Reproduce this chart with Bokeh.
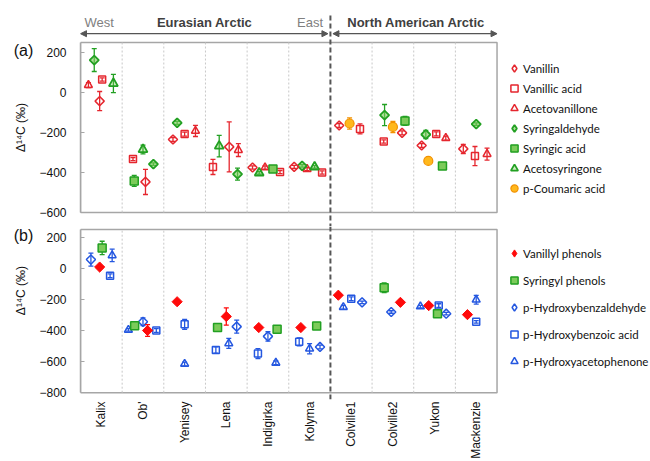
import math
from bokeh.plotting import figure
from bokeh.models import (ColumnDataSource, FixedTicker, Span, Label, Arrow, NormalHead,
                          Legend, LegendItem, Range1d)
from bokeh.layouts import column, row
from bokeh.embed import file_html
from bokeh.resources import INLINE

# ---------------- data ----------------
rivers = ["Kalix", "Ob'", "Yenisey", "Lena", "Indigirka", "Kolyma",
          "Colville1", "Colville2", "Yukon", "Mackenzie"]
n_eurasian = 6
ticks_a = [-600, -400, -200, 0, 200]
ticks_b = [-800, -600, -400, -200, 0, 200]

# panel (a): individual lignin phenols, Δ14C (‰) and error
vanillin = [-43, -447, -235, -272, -375, -372, -165, -202, -265, -282]
vanillin_err = [48, 63, 10, 125, 8, 8, 10, 10, 10, 23]
vanillic_acid = [65, -333, -208, -372, -398, -400, -182, -245, -207, -318]
vanillic_acid_err = [8, 8, 10, 38, 8, 8, 25, 8, 10, 48]
acetovanillone = [37, None, -192, -288, -375, -383, None, None, -228, -308]
acetovanillone_err = [12, 0, 28, 32, 8, 8, 0, 0, 10, 30]
syringaldehyde = [162, -358, -152, -408, None, -367, None, -113, -210, -158]
syringaldehyde_err = [57, 6, 8, 30, 0, 6, 0, 53, 21, 6]
syringic_acid = [None, -442, None, None, -382, None, None, -142, -367, None]
syringic_acid_err = [0, 27, 0, 0, 8, 0, 0, 22, 6, 0]
acetosyringone = [45, -285, None, -268, -402, -372, None, None, None, None]
acetosyringone_err = [46, 22, 0, 54, 6, 6, 0, 0, 0, 0]
coumaric_acid = [None, None, None, None, None, None, -155, -172, -342, None]
coumaric_acid_err = [0, 0, 0, 0, 0, 0, 28, 28, 6, 0]

# panel (b): phenol groups
vanillyl = [8, -400, -215, -310, -381, -381, -173, -219, -240, -298]
vanillyl_err = [8, 38, 8, 55, 8, 8, 8, 8, 8, 8]
syringyl = [131, -369, None, -381, -392, -371, None, -125, -292, None]
syringyl_err = [43, 8, 0, 15, 8, 8, 0, 31, 8, 0]
hb_aldehyde = [56, -344, None, -375, -438, -506, -219, -281, -292, None]
hb_aldehyde_err = [42, 25, 0, 42, 30, 12, 8, 8, 8, 0]
hb_acid = [-48, -400, -360, -525, -548, -473, -196, None, -240, -344]
hb_acid_err = [12, 12, 32, 20, 32, 26, 12, 0, 12, 8]
hb_aceto = [83, -396, -615, -483, -608, -517, -250, None, -246, -202]
hb_aceto_err = [40, 8, 12, 32, 12, 33, 12, 0, 8, 28]

# within-category horizontal placement (fraction of a category width)
vanillin_dx = [-0.04, 0.06, -0.28, 0.07, -0.37, -0.37, -0.29, 0.22, -0.31, -0.31]
vanillic_acid_dx = [0.02, -0.24, 0.0, -0.32, 0.29, 0.30, 0.21, -0.22, 0.04, -0.03]
acetovanillone_dx = [-0.31, 0, 0.26, 0.29, -0.07, -0.06, 0, 0, 0.27, 0.26]
syringaldehyde_dx = [-0.17, 0.25, -0.18, 0.27, 0, -0.18, 0, -0.20, -0.21, 0.0]
syringic_acid_dx = [0, -0.21, 0, 0, 0.12, 0, 0, 0.29, 0.19, 0]
acetosyringone_dx = [0.29, 0.0, 0, -0.17, -0.21, 0.12, 0, 0, 0, 0]
coumaric_acid_dx = [0, 0, 0, 0, 0, 0, -0.04, 0.0, -0.15, 0]
vanillyl_dx = [-0.04, 0.11, -0.18, 0.0, -0.22, -0.21, -0.31, 0.18, -0.14, -0.21]
syringyl_dx = [0.02, -0.20, 0, -0.21, 0.22, 0.17, 0, -0.21, 0.07, 0]
hb_aldehyde_dx = [-0.25, 0.0, 0, 0.25, 0.0, 0.25, 0.26, -0.04, 0.28, 0]
hb_acid_dx = [0.21, 0.32, 0.0, -0.25, -0.24, -0.25, 0.0, 0, 0.10, 0.0]
hb_aceto_dx = [0.26, -0.35, 0.0, 0.06, 0.19, 0.0, -0.19, 0, -0.34, 0.0]

# ---------------- styles / layout ----------------
RED = "#E5262E"
RED_F = "#FF0A0A"
GREEN = "#22A022"
GREEN_F = "#7CCB5A"
ORANGE = "#F29100"
ORANGE_F = "#FFB81C"
BLUE = "#2457E0"
FRAME = "#A6A6A6"
DARK = "#555555"
FONT = "Liberation Sans"
N = len(rivers)
YTOP = 250          # top of each panel box
LEFT_W = 36         # width of the strip holding "(a)", "(b)" and the axis titles
CAT_PX = 41.8       # pixels per category
FRAME_X0 = 78


def add_series(p, vals, errs, dx, marker, size, color, fill, fill_alpha, lw=1.5):
    xs, ys, lo, hi = [], [], [], []
    for i in range(N):
        if vals[i] is None:
            continue
        xs.append(i + 0.5 + dx[i])
        ys.append(vals[i])
        lo.append(vals[i] - errs[i])
        hi.append(vals[i] + errs[i])
    src = ColumnDataSource(dict(x=xs, y=ys, lo=lo, hi=hi))
    p.segment(x0="x", y0="lo", x1="x", y1="hi", source=src, line_color=color, line_width=1.3)
    p.scatter(x="x", y="lo", source=src, marker="dash", size=5, line_color=color, line_width=1.3)
    p.scatter(x="x", y="hi", source=src, marker="dash", size=5, line_color=color, line_width=1.3)
    angle = 0.0
    m = marker
    if marker == "diamond":
        m, angle = "square", math.pi / 4
        size = size * 0.72
    p.scatter(x="x", y="y", source=src, marker=m, angle=angle, size=size, line_color=color,
              fill_color=fill, fill_alpha=fill_alpha, line_width=lw)
    proxy = p.scatter(x=[float("nan")], y=[float("nan")], marker=marker, size=size,
                      line_color=color, fill_color=fill, fill_alpha=fill_alpha, line_width=lw)
    return proxy


def base_fig(height, yr, bottom, ticks, xaxis):
    width = 650 - LEFT_W
    x_end = (650 - FRAME_X0) / CAT_PX
    p = figure(width=width, height=height, x_range=Range1d(0, x_end), y_range=Range1d(*yr),
               output_backend="svg", toolbar_location=None,
               x_axis_location="below" if xaxis else None,
               min_border_left=FRAME_X0 - LEFT_W, min_border_right=0, min_border_top=0,
               min_border_bottom=bottom)
    p.outline_line_color = None
    p.background_fill_color = "white"
    p.border_fill_color = "white"
    ya = p.yaxis[0]
    ya.ticker = FixedTicker(ticks=ticks)
    ya.bounds = (ticks[0], YTOP)
    ya.axis_line_color = FRAME
    ya.axis_line_width = 1.5
    ya.major_tick_in = 4
    ya.major_tick_out = 0
    ya.major_tick_line_color = FRAME
    ya.minor_tick_line_color = None
    ya.major_label_text_font = FONT
    ya.major_label_text_font_size = "12px"
    ya.major_label_text_color = "#111111"
    ya.major_label_standoff = 14
    p.grid.grid_line_color = None
    # panel box
    p.quad(left=0, right=N, bottom=ticks[0], top=YTOP, fill_alpha=0,
           line_color=FRAME, line_width=1.5)
    # dotted category separators
    seps = [i for i in range(1, N) if i != n_eurasian]
    p.segment(x0=seps, x1=seps, y0=[ticks[0]] * len(seps), y1=[YTOP] * len(seps),
              line_color="#C8C8C8", line_dash="2 2", line_width=1)
    return p


def side_strip(height, label_y, title_y, tag):
    s = figure(width=LEFT_W, height=height, x_range=Range1d(0, LEFT_W),
               y_range=Range1d(height, 0), output_backend="svg", toolbar_location=None,
               x_axis_location=None, y_axis_location=None, min_border=0)
    s.outline_line_color = None
    s.grid.grid_line_color = None
    s.add_layout(Label(x=23, y=label_y, text=tag, text_align="center",
                       text_baseline="middle", text_font=FONT, text_font_size="16px",
                       text_color="#111111"))
    s.add_layout(Label(x=20, y=title_y, text="Δ¹⁴C (‰)", text_align="center",
                       text_baseline="middle", angle=math.pi / 2, text_font=FONT,
                       text_font_size="12px", text_color="#111111"))
    return s


def make_legend(p, entries, loc, spacing):
    leg = Legend(items=[LegendItem(label=l, renderers=[r]) for l, r in entries],
                 location=loc, orientation="vertical", padding=0, margin=0, spacing=spacing,
                 glyph_width=18, glyph_height=18, label_height=18, label_standoff=0,
                 border_line_color=None, background_fill_alpha=0,
                 label_text_font="Lato", label_text_font_size="11.5px",
                 label_text_color="#111111")
    p.add_layout(leg)


# ---------------- panel (a) (its frame also holds the header) ----------------
pa = base_fig(226, (-670, 460), 0, ticks_a, False)
r1 = add_series(pa, acetovanillone, acetovanillone_err, acetovanillone_dx, "triangle", 8, RED, "white", 0.0)
r2 = add_series(pa, syringaldehyde, syringaldehyde_err, syringaldehyde_dx, "diamond", 9, GREEN, GREEN_F, 0.6, 1.8)
r3 = add_series(pa, vanillin, vanillin_err, vanillin_dx, "diamond", 9, RED, "white", 0.0)
r4 = add_series(pa, vanillic_acid, vanillic_acid_err, vanillic_acid_dx, "square", 7, RED, "white", 0.0)
r5 = add_series(pa, acetosyringone, acetosyringone_err, acetosyringone_dx, "triangle", 9, GREEN, GREEN_F, 0.35, 1.8)
r6 = add_series(pa, syringic_acid, syringic_acid_err, syringic_acid_dx, "square", 8, GREEN, GREEN_F, 1.0, 1.5)
r7 = add_series(pa, coumaric_acid, coumaric_acid_err, coumaric_acid_dx, "circle", 9, ORANGE, ORANGE_F, 1.0, 1.2)
make_legend(pa, [("Vanillin", r3), ("Vanillic acid", r4), ("Acetovanillone", r1),
                 ("Syringaldehyde", r2), ("Syringic acid", r6), ("Acetosyringone", r5),
                 ("p-Coumaric acid", r7)], (425, 29), 2)

pa.add_layout(Label(x=0.45, y=352, text="West", text_align="center", text_baseline="middle",
                    text_font=FONT, text_font_size="13px", text_color="#808080"))
pa.add_layout(Label(x=2.98, y=352, text="Eurasian Arctic", text_align="center",
                    text_baseline="middle", text_font=FONT, text_font_size="13px",
                    text_font_style="bold", text_color="#404040"))
pa.add_layout(Label(x=5.51, y=352, text="East", text_align="center", text_baseline="middle",
                    text_font=FONT, text_font_size="13px", text_color="#808080"))
pa.add_layout(Label(x=8.06, y=352, text="North American Arctic", text_align="center",
                    text_baseline="middle", text_font=FONT, text_font_size="13px",
                    text_font_style="bold", text_color="#404040"))
for xs, xe in [(0.0, n_eurasian - 0.06), (n_eurasian + 0.06, N)]:
    pa.add_layout(Arrow(x_start=xs, y_start=294, x_end=xe, y_end=294,
                        start=NormalHead(size=6, fill_color=DARK, line_color=DARK),
                        end=NormalHead(size=6, fill_color=DARK, line_color=DARK),
                        line_color=DARK, line_width=1.2))
pa.segment(x0=[n_eurasian], x1=[n_eurasian], y0=[385], y1=[-670],
           line_color=DARK, line_dash="5 3", line_width=2)

# ---------------- panel (b) ----------------
pb = base_fig(235, (-843.75, 268.75), 57, ticks_b, True)
xa = pb.xaxis[0]
xa.ticker = FixedTicker(ticks=[i + 0.5 for i in range(N)])
xa.major_label_overrides = {i + 0.5: rivers[i] for i in range(N)}
xa.major_label_orientation = math.pi / 2
xa.major_label_text_font = FONT
xa.major_label_text_font_size = "12px"
xa.major_label_text_color = "#111111"
xa.major_label_standoff = 2
xa.major_tick_in = 0
xa.major_tick_out = 0
xa.minor_tick_line_color = None
xa.axis_line_color = None

s1 = add_series(pb, hb_aldehyde, hb_aldehyde_err, hb_aldehyde_dx, "diamond", 9, BLUE, "white", 0.0)
s2 = add_series(pb, hb_acid, hb_acid_err, hb_acid_dx, "square", 7, BLUE, "white", 0.0)
s3 = add_series(pb, hb_aceto, hb_aceto_err, hb_aceto_dx, "triangle", 8, BLUE, "white", 0.0)
s4 = add_series(pb, syringyl, syringyl_err, syringyl_dx, "square", 8, GREEN, GREEN_F, 1.0, 1.5)
s5 = add_series(pb, vanillyl, vanillyl_err, vanillyl_dx, "diamond", 10, RED_F, RED_F, 1.0, 1.0)
make_legend(pb, [("Vanillyl phenols", s5), ("Syringyl phenols", s4),
                 ("p-Hydroxybenzaldehyde", s1), ("p-Hydroxybenzoic acid", s2),
                 ("p-Hydroxyacetophenone", s3)], (425, 29), 9)
pb.add_layout(Span(location=n_eurasian, dimension="height", line_color=DARK,
                   line_dash="5 3", line_width=2))

# ---------------- assemble ----------------
la = side_strip(226, 50, 127, "(a)")
lb = side_strip(235, 12, 87, "(b)")
layout = column(row(la, pa, spacing=0), row(lb, pb, spacing=0), spacing=0)
open("out.html", "w").write(file_html(layout, INLINE))
